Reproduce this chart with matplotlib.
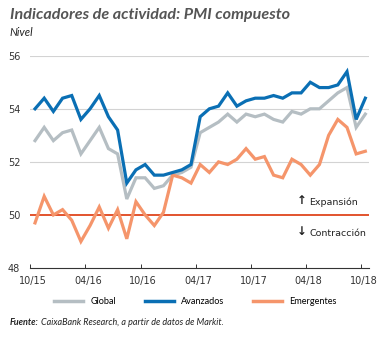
import matplotlib
matplotlib.use("Agg")
import matplotlib.pyplot as plt
import numpy as np

months = ["10/15","11/15","12/15","01/16","02/16","03/16","04/16","05/16","06/16","07/16",
          "08/16","09/16","10/16","11/16","12/16","01/17","02/17","03/17","04/17","05/17",
          "06/17","07/17","08/17","09/17","10/17","11/17","12/17","01/18","02/18","03/18",
          "04/18","05/18","06/18","07/18","08/18","09/18","10/18"]
global_pmi = [52.8,53.3,52.8,53.1,53.2,52.3,52.8,53.3,52.5,52.3,
              50.6,51.4,51.4,51.0,51.1,51.5,51.6,51.8,53.1,53.3,
              53.5,53.8,53.5,53.8,53.7,53.8,53.6,53.5,53.9,53.8,
              54.0,54.0,54.3,54.6,54.8,53.3,53.8]
avanzados = [54.0,54.4,53.9,54.4,54.5,53.6,54.0,54.5,53.7,53.2,
             51.2,51.7,51.9,51.5,51.5,51.6,51.7,51.9,53.7,54.0,
             54.1,54.6,54.1,54.3,54.4,54.4,54.5,54.4,54.6,54.6,
             55.0,54.8,54.8,54.9,55.4,53.6,54.4]
emergentes = [49.7,50.7,50.0,50.2,49.8,49.0,49.6,50.3,49.5,50.2,
              49.1,50.5,50.0,49.6,50.1,51.5,51.4,51.2,51.9,51.6,
              52.0,51.9,52.1,52.5,52.1,52.2,51.5,51.4,52.1,51.9,
              51.5,51.9,53.0,53.6,53.3,52.3,52.4]
tick_labels = ["10/15","04/16","10/16","04/17","10/17","04/18","10/18"]
yticks = [48, 50, 52, 54, 56]

c_gray = "#b5bec3"
c_blue = "#0a6fb4"
c_orange = "#f5956b"
c_ref = "#e2532d"
c_text = "#333333"

fig = plt.figure(figsize=(3.81, 3.38), dpi=100)
ax = fig.add_axes([0.0787, 0.2071, 0.8898, 0.628])
x = np.arange(len(months))

for v in yticks[1:]:
    if v != 50:
        ax.axhline(v, color="#d3d3d3", lw=0.8, zorder=0)
ax.axhline(50, color=c_ref, lw=1.4, zorder=1)

ax.plot(x, global_pmi, color=c_gray, lw=2.3, solid_joinstyle="miter", zorder=2)
ax.plot(x, emergentes, color=c_orange, lw=2.3, solid_joinstyle="miter", zorder=3)
ax.plot(x, avanzados, color=c_blue, lw=2.3, solid_joinstyle="miter", zorder=4)

ax.set_xlim(-0.55, 36.4)
ax.set_ylim(48, 56)
ax.set_yticks(yticks)
ax.set_yticklabels([str(v) for v in yticks], fontsize=7, color=c_text)
ax.tick_params(axis="y", length=0, pad=7)

pos = [months.index(t) for t in tick_labels]
ax.set_xticks([p - 0.5 for p in pos])
ax.set_xticklabels([])
ax.set_xticks([p - 0.2 for p in pos], minor=True)
ax.set_xticklabels(tick_labels, minor=True, fontsize=7, color=c_text)
ax.tick_params(axis="x", which="major", direction="in", length=3, color="#333333", width=0.7)
ax.tick_params(axis="x", which="minor", length=0, pad=6)

for s in ["top", "right", "left"]:
    ax.spines[s].set_visible(False)
ax.spines["bottom"].set_color("#333333")
ax.spines["bottom"].set_linewidth(0.8)

ax.text(29.1, 50.55, "\u2191", fontsize=8.5, color="#222222", ha="center", va="center", fontweight="bold")
ax.text(29.9, 50.47, "Expansión", fontsize=6.8, color="#222222", ha="left", va="center")
ax.text(29.1, 49.38, "\u2193", fontsize=8.5, color="#222222", ha="center", va="center", fontweight="bold")
ax.text(29.9, 49.3, "Contracción", fontsize=6.8, color="#222222", ha="left", va="center")

fig.text(0.026, 0.955, "Indicadores de actividad: PMI compuesto", fontsize=11.6,
         fontweight="bold", fontstyle="italic", color="#555555", ha="left", va="center",
         family="Lato")
fig.text(0.026, 0.905, "Nivel", fontsize=8, fontstyle="italic", color="#222222",
         ha="left", va="center", family="Lato")

# legend
from matplotlib.lines import Line2D
handles = [Line2D([], [], color=c_gray, lw=2.5),
           Line2D([], [], color=c_blue, lw=2.5),
           Line2D([], [], color=c_orange, lw=2.5)]
fig.legend(handles, ["Global", "Avanzados", "Emergentes"], loc="center",
           bbox_to_anchor=(0.513, 0.108), ncol=3, frameon=False,
           handlelength=3.2, columnspacing=3.1, handletextpad=0.8,
           prop={"family": "Lato", "size": 6.6})

fig.text(0.026, 0.045, "Fuente:", fontsize=6.5, fontweight="bold", fontstyle="italic",
         color="#222222", ha="left", va="center", family="Lato")
fig.text(0.107, 0.045, "CaixaBank Research, a partir de datos de Markit.", fontsize=6.5,
         fontstyle="italic", color="#222222", ha="left", va="center", family="Lato")

fig.savefig("out.png", dpi=100)
